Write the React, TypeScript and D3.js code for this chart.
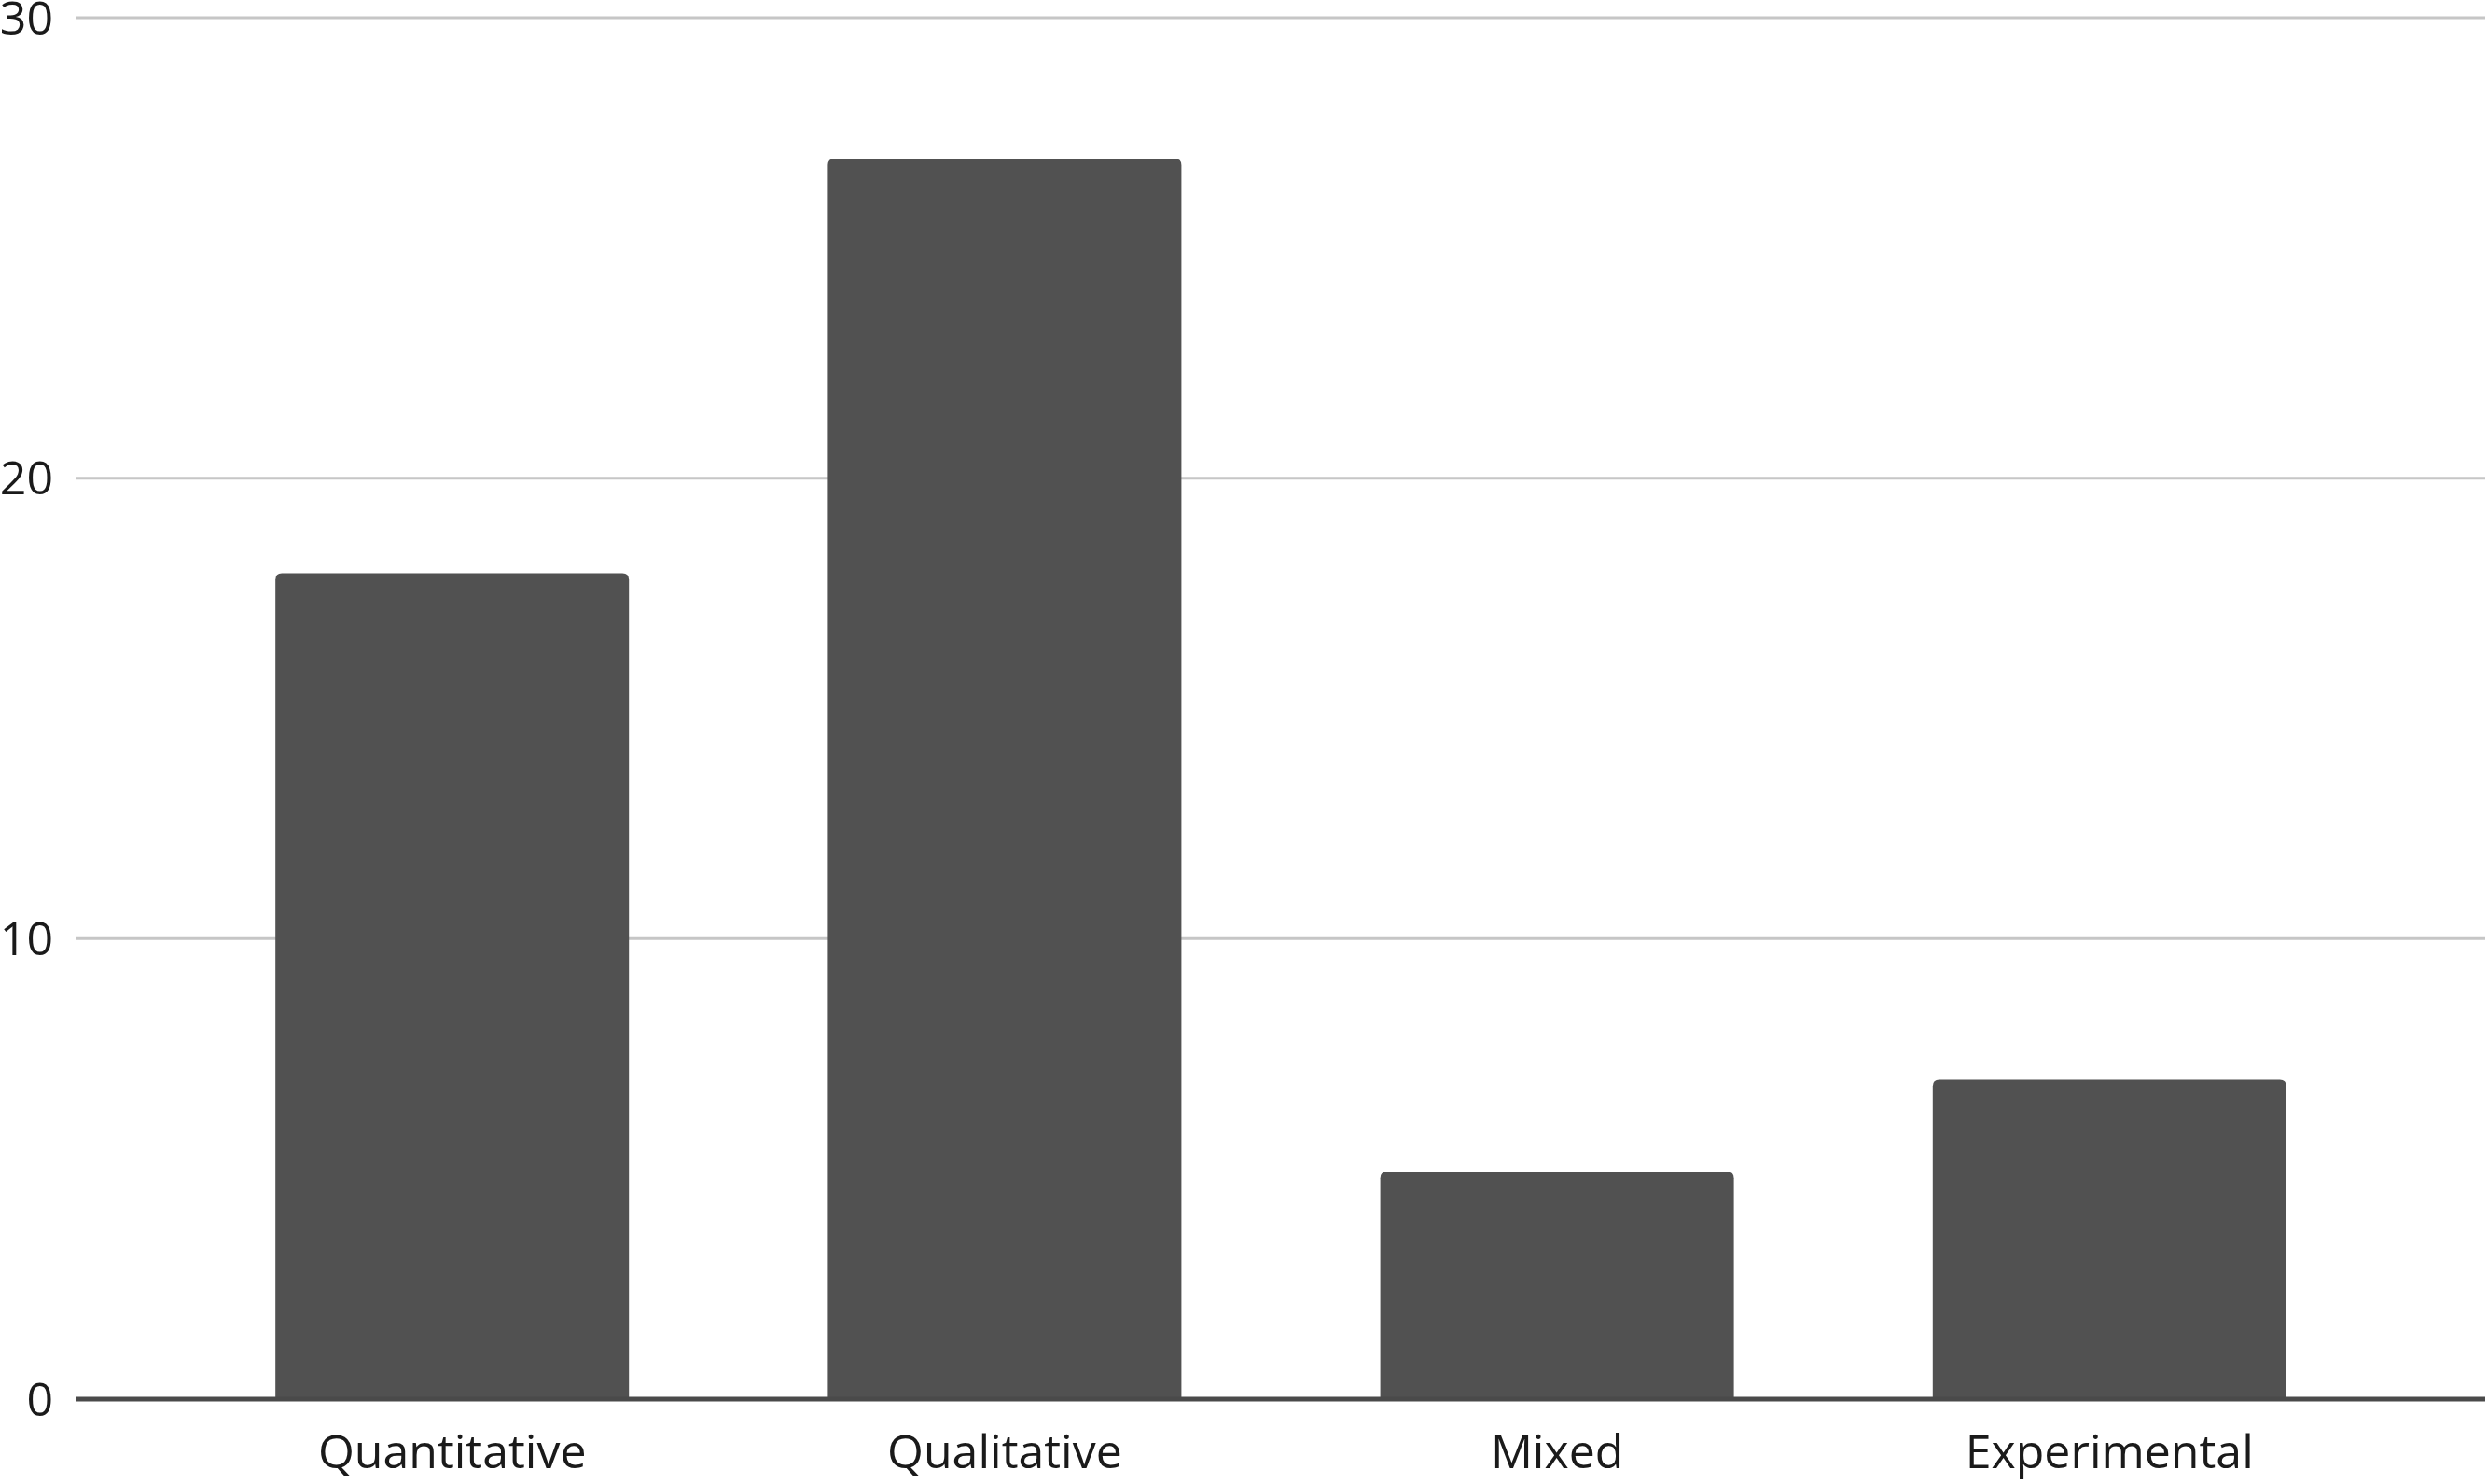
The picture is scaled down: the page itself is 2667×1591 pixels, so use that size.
import React, { useEffect, useRef } from "react";
import * as d3 from "d3";

const categories = ["Quantitative", "Qualitative", "Mixed", "Experimental"];
const counts = [18, 27, 5, 7];
const yTicks = [0, 10, 20, 30];

const W = 2667;
const H = 1591;

export default function App() {
  const ref = useRef<SVGSVGElement>(null);

  useEffect(() => {
    const svg = d3.select(ref.current);
    svg.selectAll("*").remove();

    const x = d3.scaleBand().domain(categories).range([82, 2664]).padding(0.36);
    const y = d3.scaleLinear().domain([0, 30]).range([1500, 19]);

    // gridlines
    svg
      .append("g")
      .selectAll("line")
      .data(yTicks.filter(t => t > 0))
      .enter()
      .append("line")
      .attr("x1", 82)
      .attr("x2", 2664)
      .attr("y1", d => y(d))
      .attr("y2", d => y(d))
      .attr("stroke", "#c6c6c6")
      .attr("stroke-width", 3);

    // y labels
    svg
      .append("g")
      .selectAll("text")
      .data(yTicks)
      .enter()
      .append("text")
      .attr("x", 57)
      .attr("y", d => y(d))
      .attr("dy", "0.35em")
      .attr("text-anchor", "end")
      .attr("font-family", "'Open Sans', sans-serif")
      .attr("font-size", 50)
      .attr("fill", "#1a1a1a")
      .text(d => d);

    // bars with rounded top corners
    const r = 7;
    svg
      .append("g")
      .selectAll("path")
      .data(categories)
      .enter()
      .append("path")
      .attr("d", (c, i) => {
        const x0 = x(c)!;
        const x1 = x0 + x.bandwidth();
        const top = y(counts[i]) + 3;
        const bottom = y(0);
        return `M${x0},${bottom}V${top + r}Q${x0},${top} ${x0 + r},${top}H${x1 - r}Q${x1},${top} ${x1},${top + r}V${bottom}Z`;
      })
      .attr("fill", "#515151");

    // baseline
    svg
      .append("line")
      .attr("x1", 82)
      .attr("x2", 2664)
      .attr("y1", y(0))
      .attr("y2", y(0))
      .attr("stroke", "#4a4a4a")
      .attr("stroke-width", 5);

    // category labels
    svg
      .append("g")
      .selectAll("text")
      .data(categories)
      .enter()
      .append("text")
      .attr("x", d => x(d)! + x.bandwidth() / 2)
      .attr("y", 1574)
      .attr("text-anchor", "middle")
      .attr("font-family", "'Open Sans', sans-serif")
      .attr("font-size", 50)
      .attr("fill", "#1a1a1a")
      .text(d => d);
  }, []);

  return (
    <svg
      ref={ref}
      width={W}
      height={H}
      style={{ position: "absolute", left: 0, top: 0, background: "#fff" }}
    />
  );
}
